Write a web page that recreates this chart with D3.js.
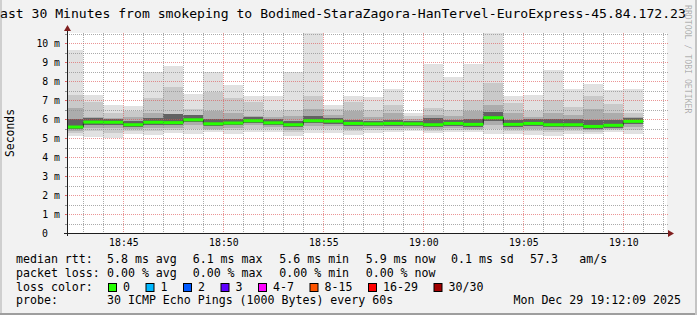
<!DOCTYPE html>
<html>
<head>
<meta charset="utf-8">
<script src="https://cdn.jsdelivr.net/npm/d3@7"></script>
<style>
html, body { margin: 0; padding: 0; background: #f2f2f2; }
svg { display: block; }
text { font-family: "DejaVu Sans Mono", monospace; }
</style>
</head>
<body>
<svg id="chart" width="697" height="315"></svg>
<script>
// ---- data (values in ms) ----
const minutes = ["18:42","18:43","18:44","18:45","18:46","18:47","18:48","18:49","18:50","18:51",
  "18:52","18:53","18:54","18:55","18:56","18:57","18:58","18:59","19:00","19:01",
  "19:02","19:03","19:04","19:05","19:06","19:07","19:08","19:09","19:10"];
const medianRtt = [5.58,5.84,5.83,5.70,5.83,5.81,5.96,5.75,5.79,5.91,5.80,5.70,5.91,5.89,5.77,
  5.75,5.77,5.75,5.70,5.77,5.72,6.07,5.72,5.77,5.70,5.70,5.61,5.67,5.88];
const maxRtt = [9.65,7.26,6.74,6.68,8.49,8.81,7.33,8.49,7.80,7.19,7.20,8.49,10.53,6.74,7.20,
  7.15,7.58,6.32,8.90,8.21,8.90,10.52,7.20,7.26,8.58,7.58,7.87,7.53,7.58];
const q90 = [7.28,6.89,6.33,6.40,7.10,7.70,6.53,7.40,7.10,6.90,6.40,6.50,7.20,6.55,6.90,
  6.50,6.74,6.15,6.60,6.50,7.00,7.90,6.85,6.40,7.00,6.65,7.20,6.80,6.30];
const q75 = [6.60,6.12,6.05,6.10,6.30,6.20,6.20,6.40,6.30,6.15,6.10,6.15,6.55,6.20,6.40,
  6.10,6.30,6.00,6.20,6.15,6.40,6.75,6.30,6.10,6.30,6.20,6.55,6.30,6.10];
const q60 = [6.00,6.05,5.98,5.92,6.08,6.25,6.20,5.98,6.00,6.10,6.02,5.92,6.15,6.05,5.95,
  5.92,5.97,5.90,6.05,5.95,6.00,6.35,5.95,5.98,6.00,6.02,5.95,5.95,6.05];
const q40 = [5.48,5.70,5.70,5.58,5.70,5.66,5.82,5.62,5.66,5.80,5.68,5.56,5.78,5.76,5.63,
  5.64,5.65,5.63,5.58,5.65,5.60,5.90,5.58,5.64,5.57,5.58,5.50,5.55,5.74];
const q25 = [5.38,5.55,5.52,5.45,5.55,5.52,5.66,5.50,5.52,5.66,5.56,5.42,5.62,5.62,5.50,
  5.52,5.52,5.52,5.45,5.52,5.48,5.70,5.45,5.50,5.44,5.46,5.40,5.45,5.58];
const q10 = [5.25,5.35,5.28,5.35,5.38,5.40,5.45,5.42,5.40,5.48,5.45,5.30,5.45,5.45,5.38,
  5.42,5.42,5.45,5.36,5.42,5.40,5.48,5.35,5.35,5.32,5.36,5.30,5.40,5.40];
const minRtt = [5.10,5.07,4.98,5.19,5.16,5.28,5.19,5.33,5.21,5.33,5.33,5.12,5.24,5.28,5.16,
  5.28,5.30,5.37,5.24,5.30,5.33,5.19,5.19,5.16,5.12,5.19,5.19,5.33,5.19];

const yTicks = [0,1,2,3,4,5,6,7,8,9,10];
const lossLabels = ["0","1","2","3","4-7","8-15","16-29","30/30"];
const lossColors = ["#26ff00","#00b8ff","#0059ff","#5e00ff","#ff00ff","#ff5500","#ff0000","#a10000"];
const rttStats = ["5.8 ms avg","6.1 ms max","5.6 ms min","5.9 ms now","0.1 ms sd","57.3","am/s"];
const lossStats = ["0.00 % avg","0.00 % max","0.00 % min","0.00 % now"];
const titleText = "Last 30 Minutes from smokeping to Bodimed-StaraZagora-HanTervel-EuroExpress-45.84.172.23";
const probeText = "30 ICMP Echo Pings (1000 Bytes) every 60s";
const stampText = "Mon Dec 29 19:12:09 2025";

// ---- layout ----
const W = 697, H = 315;
const pl = 67, pr = 667, pt = 33, pb = 233;
const statX = [107, 192.7, 279.3, 365.7, 451, 530, 579.3];
const legendY = [263, 277, 291, 304];

const svg = d3.select("#chart");
const parse = d3.timeParse("%Y-%m-%d %H:%M:%S");
const day = "2025-12-29 ";
const starts = minutes.map(m => parse(day + m + ":00"));

const x = d3.scaleTime()
  .domain([parse(day + "18:42:11"), parse(day + "19:12:11")])
  .range([pl, pr]);
const y = d3.scaleLinear().domain([0, 10.53]).range([pb, pt]);

// background + frame
svg.append("rect").attr("width", W).attr("height", H).attr("fill", "#f2f2f2");
svg.append("rect").attr("x", 0).attr("y", 0).attr("width", 2).attr("height", H).attr("fill", "#cfcfcf");
svg.append("rect").attr("x", 0).attr("y", H - 2).attr("width", W).attr("height", 2).attr("fill", "#9e9e9e");
svg.append("rect").attr("x", W - 2).attr("y", 0).attr("width", 2).attr("height", H).attr("fill", "#c4c4c4");
svg.append("rect").attr("x", pl).attr("y", pt).attr("width", pr - pl).attr("height", pb - pt).attr("fill", "#fff");

svg.append("clipPath").attr("id", "plotclip")
  .append("rect").attr("x", pl).attr("y", pt).attr("width", pr - pl).attr("height", pb - pt);

// smoke bands, outermost first
const bands = [
  [minRtt, maxRtt, "#e1e1e1"],
  [q10, q90, "#c9c9c9"],
  [q25, q75, "#acacac"],
  [q40, q60, "#626262"]
];
const smoke = svg.append("g").attr("clip-path", "url(#plotclip)");
bands.forEach(([lo, hi, col]) => {
  smoke.selectAll(null).data(starts).join("rect")
    .attr("x", (d) => x(d))
    .attr("width", (d) => x(d3.timeMinute.offset(d, 1)) - x(d))
    .attr("y", (d, i) => y(hi[i]))
    .attr("height", (d, i) => y(lo[i]) - y(hi[i]))
    .attr("fill", col)
    .attr("shape-rendering", "crispEdges");
});

// grid (drawn over the smoke like rrdtool does)
const grid = svg.append("g");
const allMin = d3.timeMinute.range(x.domain()[0], x.domain()[1]);
allMin.forEach(t => {
  const major = t.getMinutes() % 5 === 0;
  const xx = Math.round(x(t)) + 0.5;
  grid.append("line").attr("x1", xx).attr("x2", xx).attr("y1", pt).attr("y2", pb + 2)
    .attr("stroke", major ? "rgba(222,79,79,0.6)" : "rgba(143,143,143,0.75)")
    .attr("stroke-dasharray", "1,1");
});
d3.range(0.5, 10.51, 0.5).forEach(v => {
  const major = v % 1 === 0;
  const yy = Math.round(y(v)) + 0.5;
  grid.append("line").attr("x1", pl - 2).attr("x2", pr + 2).attr("y1", yy).attr("y2", yy)
    .attr("stroke", major ? "rgba(222,79,79,0.6)" : "rgba(143,143,143,0.75)")
    .attr("stroke-dasharray", "1,1");
  grid.append("line").attr("x1", pl - 2).attr("x2", pl).attr("y1", yy).attr("y2", yy)
    .attr("stroke", major ? "rgba(222,79,79,0.8)" : "rgba(143,143,143,0.9)");
});

// median: black step line, then green (loss 0) segments
const plot = svg.append("g").attr("clip-path", "url(#plotclip)");
const stepPts = starts.map((d, i) => [x(d), y(medianRtt[i])]);
const last = starts.length - 1;
stepPts.push([x(d3.timeMinute.offset(starts[last], 1)), y(medianRtt[last])]);
plot.append("path")
  .attr("d", d3.line().curve(d3.curveStepAfter)(stepPts))
  .attr("fill", "none").attr("stroke", "#1f1f1f").attr("stroke-width", 1);
plot.selectAll(null).data(starts).join("line")
  .attr("x1", (d) => x(d))
  .attr("x2", (d) => x(d3.timeMinute.offset(d, 1)))
  .attr("y1", (d, i) => y(medianRtt[i]))
  .attr("y2", (d, i) => y(medianRtt[i]))
  .attr("stroke", lossColors[0]).attr("stroke-width", 3);

// axes lines + arrows
svg.append("line").attr("x1", pl - 3).attr("x2", pr + 4).attr("y1", pb + 0.5).attr("y2", pb + 0.5)
  .attr("stroke", "#1f1f1f");
svg.append("line").attr("x1", pl + 0.5).attr("x2", pl + 0.5).attr("y1", pb + 3).attr("y2", pt - 3)
  .attr("stroke", "#1f1f1f");
svg.append("path").attr("d", `M${pr + 1},${pb - 3} L${pr + 7},${pb + 0.5} L${pr + 1},${pb + 4} Z`)
  .attr("fill", "#801f1f");
svg.append("path").attr("d", `M${pl - 3},${pt - 2} L${pl + 0.5},${pt - 8} L${pl + 4},${pt - 2} Z`)
  .attr("fill", "#801f1f");

// x tick labels
const xAxis = svg.append("g").attr("transform", `translate(0,${pb})`)
  .call(d3.axisBottom(x).ticks(d3.timeMinute.every(5)).tickFormat(d3.timeFormat("%H:%M"))
    .tickSize(0).tickPadding(0));
xAxis.select(".domain").remove();
xAxis.selectAll("text").attr("y", 13).attr("dy", 0)
  .style("font-family", "'DejaVu Sans Mono', monospace").style("font-size", "9.8px").attr("fill", "#000");

// y tick labels
const yAxis = svg.append("g").attr("transform", `translate(${pl},0)`)
  .call(d3.axisLeft(y).tickValues(yTicks).tickFormat(d => d === 0 ? "0" : d + " m")
    .tickSize(0).tickPadding(7));
yAxis.select(".domain").remove();
yAxis.selectAll("text").attr("dy", "0.34em")
  .style("font-family", "'DejaVu Sans Mono', monospace").style("font-size", "9.8px").attr("fill", "#000");
yAxis.selectAll(".tick").filter(d => d === 0).select("text").attr("x", -19);

// vertical unit label
svg.append("text").attr("transform", `translate(14,${(pt + pb) / 2}) rotate(-90)`)
  .attr("text-anchor", "middle").style("font-size", "11.4px").attr("fill", "#000").text("Seconds");

// title (wider than the image, so its first letter falls off the left edge as in the original)
svg.append("text").attr("x", -7.9).attr("y", 18.3).style("font-size", "13.1px").attr("fill", "#000")
  .text(titleText);

// watermark
svg.append("text").attr("transform", "translate(685,5) rotate(90)")
  .style("font-size", "8.2px").attr("fill", "rgba(0,0,0,0.3)").text("RRDTOOL / TOBI OETIKER");

// legend
const leg = svg.append("g").style("font-size", "11.6px").attr("fill", "#000");
leg.append("text").attr("x", 16).attr("y", legendY[0]).text("median rtt:");
rttStats.forEach((s, i) => leg.append("text").attr("x", statX[i]).attr("y", legendY[0]).text(s));
leg.append("text").attr("x", 16).attr("y", legendY[1]).text("packet loss:");
lossStats.forEach((s, i) => leg.append("text").attr("x", statX[i]).attr("y", legendY[1]).text(s));
leg.append("text").attr("x", 16).attr("y", legendY[2]).text("loss color:");
let bx = 108;
lossLabels.forEach((lab, i) => {
  leg.append("rect").attr("x", bx + 0.5).attr("y", legendY[2] - 7.5).attr("width", 8).attr("height", 8)
    .attr("fill", lossColors[i]).attr("stroke", "#000");
  leg.append("text").attr("x", bx + 15).attr("y", legendY[2]).text(lab);
  bx = bx + 15 + lab.length * 7 + 15.5;
});
leg.append("text").attr("x", 16).attr("y", legendY[3]).text("probe:");
leg.append("text").attr("x", 107).attr("y", legendY[3]).text(probeText);
leg.append("text").attr("x", 681).attr("y", legendY[3]).attr("text-anchor", "end").text(stampText);
</script>
</body>
</html>
